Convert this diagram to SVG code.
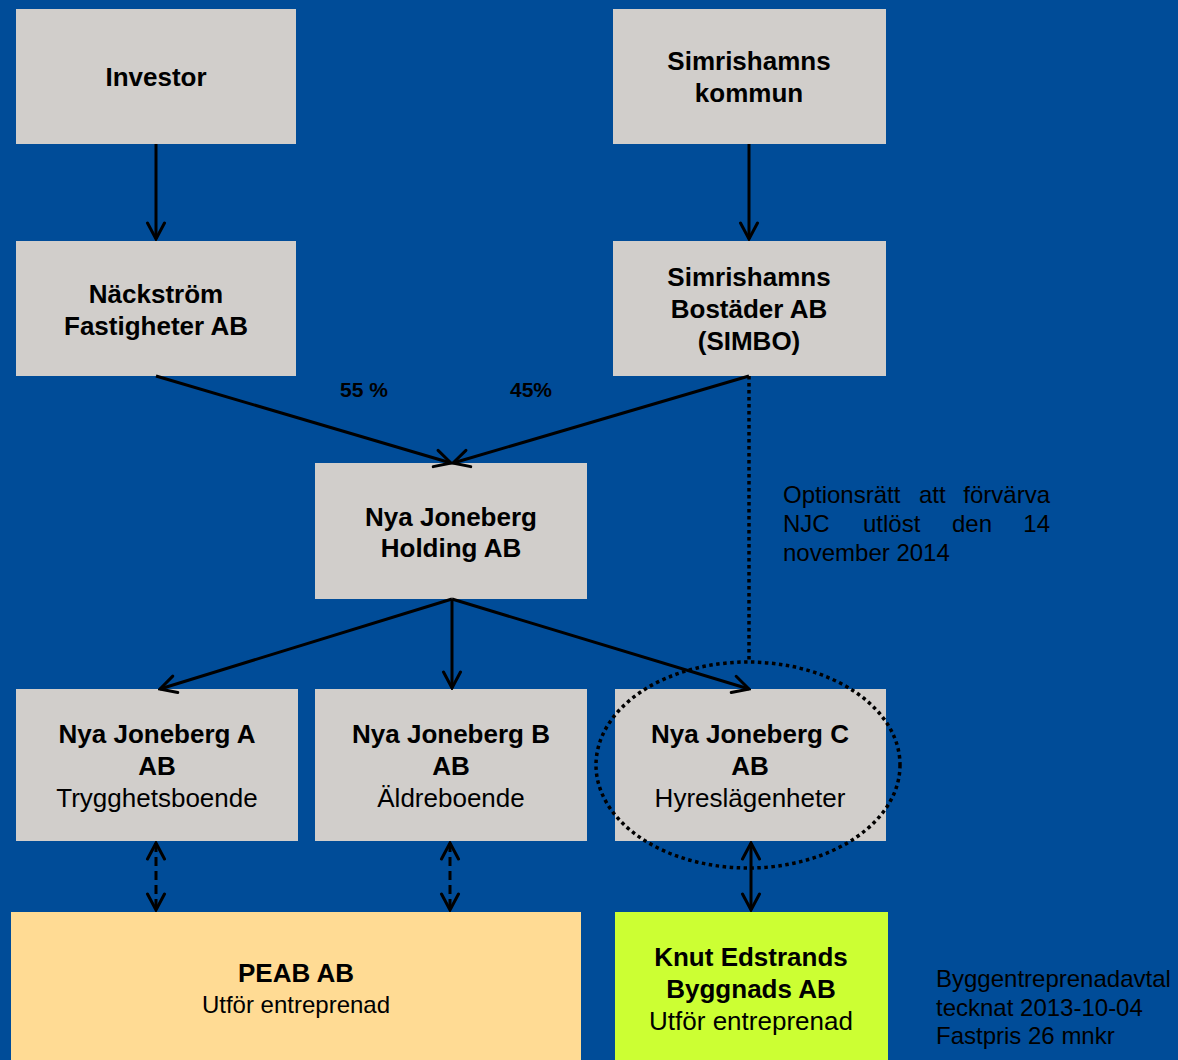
<svg xmlns="http://www.w3.org/2000/svg" width="1178" height="1060" viewBox="0 0 1178 1060">
<defs>
<style>
.box{fill:#D1CECB}
.t{font-family:"Liberation Sans",Arial,sans-serif;fill:#000;text-anchor:middle}
.b{font-weight:bold;font-size:26px}
.n{font-size:26px}
.ln{stroke:#000;stroke-width:3;fill:none}
.dot{stroke:#000;stroke-width:3.5;fill:none;stroke-dasharray:3.5,3.5}
.note{font-family:"Liberation Sans",Arial,sans-serif;font-size:24px;fill:#000}
</style>
<marker id="ah" viewBox="0 0 22 22" refX="20" refY="11" markerWidth="22" markerHeight="22" markerUnits="userSpaceOnUse" orient="auto-start-reverse">
<path d="M4,2.5 L20,11 L4,19.5" fill="none" stroke="#000" stroke-width="3" stroke-linecap="round"/>
</marker>
</defs>
<rect width="1178" height="1060" fill="#004C98"/>
<g id="investor"><rect class="box" x="16" y="9" width="280" height="135"/><text class="t b" x="156" y="86">Investor</text></g>
<g id="kommun"><rect class="box" x="613" y="9" width="273" height="135"/><text class="t b" x="749" y="70">Simrishamns</text><text class="t b" x="749" y="102">kommun</text></g>
<g id="nackstrom"><rect class="box" x="16" y="241" width="280" height="135"/><text class="t b" x="156" y="303">Näckström</text><text class="t b" x="156" y="335">Fastigheter AB</text></g>
<g id="simbo"><rect class="box" x="613" y="241" width="273" height="135"/><text class="t b" x="749" y="286">Simrishamns</text><text class="t b" x="749" y="318">Bostäder AB</text><text class="t b" x="749" y="350">(SIMBO)</text></g>
<g id="holding"><rect class="box" x="315" y="463" width="272" height="136"/><text class="t b" x="451" y="526">Nya Joneberg</text><text class="t b" x="451" y="557">Holding AB</text></g>
<g id="nja"><rect class="box" x="16" y="689" width="282" height="152"/><text class="t b" x="157" y="743">Nya Joneberg A</text><text class="t b" x="157" y="775">AB</text><text class="t n" x="157" y="807">Trygghetsboende</text></g>
<g id="njb"><rect class="box" x="315" y="689" width="272" height="152"/><text class="t b" x="451" y="743">Nya Joneberg B</text><text class="t b" x="451" y="775">AB</text><text class="t n" x="451" y="807">Äldreboende</text></g>
<g id="njc"><rect class="box" x="615" y="689" width="271" height="152"/><text class="t b" x="750" y="743">Nya Joneberg C</text><text class="t b" x="750" y="775">AB</text><text class="t n" x="750" y="807">Hyreslägenheter</text></g>
<g id="peab"><rect x="11" y="912" width="570" height="148" fill="#FFDB94"/><text class="t b" x="296" y="982">PEAB  AB</text><text class="t n" x="296" y="1013" style="font-size:24px">Utför entreprenad</text></g>
<g id="knut"><rect x="615" y="912" width="273" height="148" fill="#CCFF33"/><text class="t b" x="751" y="966">Knut Edstrands</text><text class="t b" x="751" y="998">Byggnads AB</text><text class="t n" x="751" y="1030">Utför entreprenad</text></g>
<g id="connectors">
<line class="ln" x1="156" y1="144" x2="156" y2="239" marker-end="url(#ah)"/>
<line class="ln" x1="749" y1="144" x2="749" y2="239" marker-end="url(#ah)"/>
<line class="ln" x1="156" y1="376" x2="451" y2="463" marker-end="url(#ah)"/>
<line class="ln" x1="749" y1="376" x2="453" y2="463" marker-end="url(#ah)"/>
<line class="ln" x1="452" y1="599" x2="160" y2="689" marker-end="url(#ah)"/>
<line class="ln" x1="452" y1="599" x2="452" y2="688" marker-end="url(#ah)"/>
<line class="ln" x1="452" y1="599" x2="749" y2="689" marker-end="url(#ah)"/>
<line class="dot" x1="749" y1="376" x2="749" y2="662"/>
<ellipse class="dot" cx="748" cy="765" rx="152" ry="103"/>
<line class="ln" x1="156" y1="843" x2="156" y2="910" stroke-dasharray="9,5" marker-start="url(#ah)" marker-end="url(#ah)"/>
<line class="ln" x1="450" y1="843" x2="450" y2="910" stroke-dasharray="9,5" marker-start="url(#ah)" marker-end="url(#ah)"/>
<line class="ln" x1="751" y1="843" x2="751" y2="910" marker-start="url(#ah)" marker-end="url(#ah)"/>
</g>
<text class="t" x="364" y="397" style="font-weight:bold;font-size:21px">55 %</text>
<text class="t" x="531" y="397" style="font-weight:bold;font-size:21px">45%</text>
<g class="note">
<text x="783" y="503">Optionsrätt</text><text x="919" y="503">att</text><text x="1050" y="503" text-anchor="end">förvärva</text>
<text x="783" y="532">NJC</text><text x="863" y="532">utlöst</text><text x="952" y="532">den</text><text x="1050" y="532" text-anchor="end">14</text>
<text x="783" y="561">november 2014</text>
</g>
<g class="note">
<text x="936" y="987">Byggentreprenadavtal</text>
<text x="936" y="1016">tecknat 2013-10-04</text>
<text x="936" y="1044">Fastpris 26 mnkr</text>
</g>
</svg>
